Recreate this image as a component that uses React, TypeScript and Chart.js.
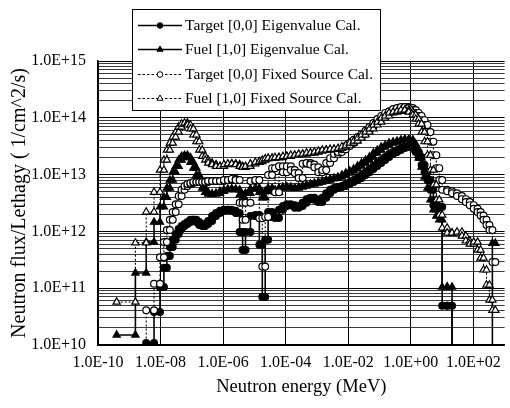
import React, { useEffect, useRef } from "react";
import { Chart, registerables } from "chart.js";

Chart.register(...registerables);

// Energy group boundaries (MeV); each group value is drawn as a histogram step
const groupBounds = [
  3.95e-10, 1.57e-9, 3.48e-9, 6.19e-9, 9.57e-9, 1.28e-8, 1.59e-8, 1.98e-8, 2.45e-8, 3.05e-8,
  3.79e-8, 4.71e-8, 5.85e-8, 7.27e-8, 9.03e-8, 1.12e-7, 1.4e-7, 1.73e-7, 2.15e-7, 2.68e-7,
  3.33e-7, 4.45e-7, 5.94e-7, 7.93e-7, 1.06e-6, 1.42e-6, 1.89e-6, 2.53e-6, 3.38e-6, 4.2e-6,
  5.21e-6, 7.48e-6, 1.07e-5, 1.44e-5, 1.79e-5, 2.22e-5, 2.75e-5, 3.68e-5, 4.57e-5, 6.11e-5,
  8.17e-5, 1.09e-4, 1.46e-4, 1.95e-4, 2.6e-4, 3.48e-4, 4.65e-4, 6.2e-4, 8.28e-4, 1.11e-3,
  1.48e-3, 1.98e-3, 2.64e-3, 3.52e-3, 4.71e-3, 6.29e-3, 8.41e-3, 1.12e-2, 1.5e-2, 2.0e-2,
  2.68e-2, 3.57e-2, 4.78e-2, 6.38e-2, 8.53e-2, 0.114, 0.152, 0.203, 0.272, 0.363,
  0.485, 0.648, 0.865, 1.16, 1.44, 1.79, 2.22, 2.76, 3.43, 4.26,
  5.29, 6.57, 8.17, 10.1, 14.6, 20.9, 30.1, 43.2, 57.7, 77.1,
  103, 137, 171, 212, 264, 328, 407, 506,
];

const targetEigen = [
  0, 0, 1.08e10, 3.8e10, 1.05e11, 2.3e11, 3.7e11, 5.3e11, 7.1e11, 9.0e11,
  1.1e12, 1.24e12, 1.35e12, 1.46e12, 1.6e12, 1.6e12, 1.46e12, 1.3e12, 1.24e12, 1.35e12,
  1.52e12, 1.87e12, 2.1e12, 2.3e12, 2.4e12, 2.4e12, 2.3e12, 2.1e12, 9.8e11, 4.7e11,
  9.8e11, 1.87e12, 1.95e12, 5.8e11, 7.0e10, 7.1e11, 2.2e12, 1.8e12, 1.72e12, 2.4e12,
  2.8e12, 3.0e12, 2.9e12, 2.6e12, 2.8e12, 3.2e12, 3.7e12, 3.9e12, 3.6e12, 3.3e12,
  3.9e12, 4.7e12, 5.4e12, 5.8e12, 6.05e12, 6.3e12, 6.8e12, 7.4e12, 8.0e12, 8.7e12,
  9.8e12, 1.1e13, 1.26e13, 1.42e13, 1.6e13, 1.8e13, 2.04e13, 2.3e13, 2.5e13, 2.7e13,
  2.94e13, 3.06e13, 3.2e13, 2.94e13, 2.5e13, 2.04e13, 1.48e13, 1.1e13, 8.0e12, 5.4e12,
  2.9e12, 2.7e12, 2.7e12, 4.9e10, 4.9e10, 0, 0, 0, 0, 0,
  0, 0, 0, 0, 0, 0, 0,
];

const fuelEigen = [
  1.5e10, 1.85e11, 6.5e11, 1.46e12, 2.7e12, 4.0e12, 5.8e12, 8.0e12, 1.1e13, 1.4e13,
  1.8e13, 2.1e13, 2.2e13, 2.0e13, 1.65e13, 1.3e13, 9.8e12, 7.4e12, 5.8e12, 4.9e12,
  4.55e12, 4.55e12, 4.7e12, 5.1e12, 5.4e12, 5.6e12, 5.6e12, 5.4e12, 4.4e12, 3.6e12,
  4.7e12, 5.6e12, 5.8e12, 4.9e12, 3.9e12, 5.1e12, 5.8e12, 5.4e12, 4.9e12, 5.8e12,
  6.05e12, 6.05e12, 5.8e12, 5.8e12, 6.05e12, 6.3e12, 6.6e12, 6.8e12, 7.1e12, 7.4e12,
  7.7e12, 8.0e12, 8.4e12, 8.7e12, 9.1e12, 9.8e12, 1.07e13, 1.16e13, 1.26e13, 1.42e13,
  1.6e13, 1.8e13, 2.04e13, 2.4e13, 2.7e13, 3.06e13, 3.3e13, 3.6e13, 3.75e13, 3.9e13,
  4.1e13, 4.2e13, 4.1e13, 3.46e13, 2.7e13, 1.96e13, 1.36e13, 9.1e12, 5.8e12, 3.6e12,
  2.4e12, 1.87e12, 1.6e12, 1.05e11, 1.05e11, 0, 0, 0, 0, 0,
  0, 0, 0, 0, 0, 0, 6.2e11,
];

const targetFixed = [
  0, 0, 4.1e10, 1.2e11, 3.5e11, 6.5e11, 1.06e12, 1.6e12, 2.2e12, 3.0e12,
  4.2e12, 5.4e12, 6.3e12, 6.8e12, 7.1e12, 7.4e12, 7.4e12, 7.4e12, 7.4e12, 7.4e12,
  7.7e12, 7.7e12, 7.7e12, 7.7e12, 8.0e12, 8.0e12, 8.4e12, 8.0e12, 3.2e12, 1.6e12,
  3.2e12, 7.7e12, 8.0e12, 1.7e12, 2.4e11, 1.8e12, 9.8e12, 1.3e13, 4.9e12, 1.4e13,
  1.1e13, 1.4e13, 1.2e13, 1.07e13, 8.7e12, 1.55e13, 1.6e13, 1.5e13, 1.35e13, 1.1e13,
  1.2e13, 1.6e13, 1.95e13, 2.3e13, 2.5e13, 2.8e13, 3.2e13, 3.6e13, 4.1e13, 4.6e13,
  5.2e13, 5.9e13, 6.9e13, 8.1e13, 9.5e13, 1.08e14, 1.22e14, 1.3e14, 1.43e14, 1.49e14,
  1.55e14, 1.55e14, 1.49e14, 1.37e14, 1.22e14, 1.08e14, 9.1e13, 7.5e13, 5.6e13, 3.8e13,
  2.2e13, 1.3e13, 8.0e12, 5.4e12, 5.1e12, 4.7e12, 4.2e12, 3.7e12, 3.3e12, 2.9e12,
  2.5e12, 2.2e12, 1.9e12, 1.6e12, 1.3e12, 1.06e12, 2.9e11,
];

const fuelFixed = [
  5.7e10, 6.3e11, 2.2e12, 4.9e12, 1.2e13, 1.8e13, 2.7e13, 3.6e13, 4.6e13, 5.6e13,
  6.9e13, 7.8e13, 8.1e13, 7.5e13, 6.4e13, 5.0e13, 3.8e13, 2.7e13, 2.1e13, 1.8e13,
  1.6e13, 1.5e13, 1.4e13, 1.4e13, 1.5e13, 1.55e13, 1.55e13, 1.5e13, 1.4e13, 1.35e13,
  1.4e13, 1.55e13, 1.65e13, 1.7e13, 1.8e13, 1.9e13, 1.95e13, 1.95e13, 2.0e13, 2.0e13,
  2.1e13, 2.1e13, 2.2e13, 2.2e13, 2.3e13, 2.3e13, 2.4e13, 2.4e13, 2.5e13, 2.6e13,
  2.7e13, 2.7e13, 2.8e13, 2.8e13, 2.9e13, 3.1e13, 3.3e13, 3.6e13, 3.9e13, 4.4e13,
  5.0e13, 5.6e13, 6.4e13, 7.5e13, 8.4e13, 9.9e13, 1.08e14, 1.22e14, 1.26e14, 1.3e14,
  1.37e14, 1.37e14, 1.26e14, 1.12e14, 9.5e13, 7.8e13, 5.6e13, 3.8e13, 2.2e13, 1.2e13,
  6.6e12, 3.6e12, 1.95e12, 1.15e12, 9.4e11, 9.4e11, 9.8e11, 8.3e11, 6.8e11, 6.0e11,
  6.5e11, 4.7e11, 3.4e11, 2.1e11, 1.14e11, 6.2e10, 4.1e10,
];

const seriesNames = [
  "Target [0,0] Eigenvalue Cal.",
  "Fuel [1,0] Eigenvalue Cal.",
  "Target [0,0] Fixed Source Cal.",
  "Fuel [1,0] Fixed Source Cal.",
];

const xTickValues = [1e-10, 1e-8, 1e-6, 1e-4, 1e-2, 1, 1e2];
const yDecades = [1e10, 1e11, 1e12, 1e13, 1e14, 1e15];
const yMantissas = [1, 2, 3, 4, 5, 6, 7, 8, 9];

const X_MIN = 1e-10;
const X_MAX = 1e3;
const Y_MIN = 1e10;
const Y_MAX = 1e15;

const FONT = "'Liberation Serif', 'Times New Roman', Times, serif";
const ZERO_FLOOR = 1e-30; // zero flux: line drops straight off the log axis

function expLabel(v: number): string {
  const e = Math.round(Math.log10(v));
  return `1.0E${e < 0 ? "-" : "+"}${String(Math.abs(e)).padStart(2, "0")}`;
}

function isDecade(v: number): boolean {
  const l = Math.log10(v);
  return Math.abs(l - Math.round(l)) < 1e-6;
}

function histogram(values: number[]) {
  const pts: { x: number; y: number }[] = [];
  values.forEach((v, i) => {
    const y = v > 0 ? v : ZERO_FLOOR;
    pts.push({ x: groupBounds[i], y }, { x: groupBounds[i + 1], y });
  });
  return pts;
}

type Style = { shape: "circle" | "triangle"; filled: boolean; dashed: boolean };
const styles: Style[] = [
  { shape: "circle", filled: true, dashed: false },
  { shape: "triangle", filled: true, dashed: false },
  { shape: "circle", filled: false, dashed: true },
  { shape: "triangle", filled: false, dashed: true },
];

function drawMarker(ctx: CanvasRenderingContext2D, s: Style, x: number, y: number, r: number) {
  ctx.beginPath();
  if (s.shape === "circle") {
    ctx.arc(x, y, r, 0, Math.PI * 2);
  } else {
    const rr = r * 1.25;
    ctx.moveTo(x, y - rr);
    ctx.lineTo(x + rr * Math.sin((2 * Math.PI) / 3), y - rr * Math.cos((2 * Math.PI) / 3));
    ctx.lineTo(x + rr * Math.sin((4 * Math.PI) / 3), y - rr * Math.cos((4 * Math.PI) / 3));
    ctx.closePath();
  }
  ctx.fillStyle = s.filled ? "#000" : "#fff";
  ctx.fill();
  ctx.lineWidth = 1;
  ctx.strokeStyle = "#000";
  ctx.stroke();
}

const boxLegend = {
  id: "boxLegend",
  afterDraw(chart: any) {
    const ctx: CanvasRenderingContext2D = chart.ctx;
    const rowY = [25, 49, 74, 98];
    ctx.save();
    ctx.setLineDash([]);
    ctx.fillStyle = "#fff";
    ctx.fillRect(132, 9, 248, 101);
    ctx.strokeStyle = "#000";
    ctx.lineWidth = 1;
    ctx.strokeRect(132.5, 9.5, 248, 101);
    ctx.font = `15.5px ${FONT}`;
    ctx.textBaseline = "middle";
    seriesNames.forEach((name, i) => {
      const s = styles[i];
      const y = rowY[i];
      ctx.beginPath();
      ctx.setLineDash(s.dashed ? [2.5, 2] : []);
      ctx.lineWidth = s.dashed ? 1.1 : 1.5;
      ctx.strokeStyle = "#000";
      ctx.moveTo(138, y + 0.5);
      ctx.lineTo(182, y + 0.5);
      ctx.stroke();
      ctx.setLineDash([]);
      drawMarker(ctx, s, 160, y + 0.5, 2.8);
      ctx.fillStyle = "#000";
      ctx.fillText(name, 185, y + 1);
    });
    ctx.restore();
  },
};

export default function App() {
  const ref = useRef<HTMLCanvasElement>(null);

  useEffect(() => {
    const canvas = ref.current;
    if (!canvas) return;
    const allSeries = [targetEigen, fuelEigen, targetFixed, fuelFixed];
    const datasets = allSeries.map((vals, i) => {
      const s = styles[i];
      return {
        label: seriesNames[i],
        data: histogram(vals),
        showLine: true,
        borderColor: "#000",
        backgroundColor: s.filled ? "#000" : "#fff",
        borderWidth: s.dashed ? 1.1 : 1.6,
        borderDash: s.dashed ? [2, 2] : [],
        pointStyle: s.shape,
        pointRadius: s.shape === "triangle" ? 4.2 : 3.4,
        pointBorderWidth: 1.2,
        pointBorderColor: "#000",
        pointBackgroundColor: s.filled ? "#000" : "#fff",
        fill: false,
        tension: 0,
        order: 3 - i,
      };
    });

    const chart = new Chart(canvas, {
      type: "scatter",
      data: { datasets: datasets as any },
      options: {
        responsive: false,
        animation: false,
        events: [],
        layout: { padding: { top: 61, left: 0, right: 0, bottom: 0 } },
        plugins: {
          legend: { display: false },
          tooltip: { enabled: false },
        },
        scales: {
          x: {
            type: "logarithmic",
            min: X_MIN,
            max: X_MAX,
            afterBuildTicks: (scale: any) => {
              scale.ticks = xTickValues.map((v) => ({ value: v }));
            },
            afterFit: (scale: any) => {
              scale.height = 63;
            },
            ticks: {
              autoSkip: false,
              maxRotation: 0,
              minRotation: 0,
              padding: 8,
              color: "#000",
              font: { family: FONT, size: 16 },
              callback: (v: any) => expLabel(Number(v)),
            },
            grid: { color: "#000", lineWidth: 1, drawTicks: false },
            border: { color: "#000", width: 1.5 },
            title: {
              display: true,
              text: "Neutron energy (MeV)",
              color: "#000",
              font: { family: FONT, size: 18.5 },
              padding: { top: 0, bottom: 10 },
            },
          },
          y: {
            type: "logarithmic",
            min: Y_MIN,
            max: Y_MAX,
            afterBuildTicks: (scale: any) => {
              const t: { value: number }[] = [];
              yDecades.forEach((d) => {
                if (d === Y_MAX) {
                  t.push({ value: d });
                } else {
                  yMantissas.forEach((m) => t.push({ value: m * d }));
                }
              });
              scale.ticks = t;
            },
            afterFit: (scale: any) => {
              scale.width = 98;
            },
            ticks: {
              autoSkip: false,
              padding: 12,
              color: "#000",
              font: { family: FONT, size: 16 },
              callback: (v: any) => (isDecade(Number(v)) ? expLabel(Number(v)) : ""),
            },
            grid: {
              color: (ctx: any) => (ctx.tick && isDecade(ctx.tick.value) ? "#000" : "#3c3c3c"),
              lineWidth: 1,
              drawTicks: false,
            },
            border: { color: "#000", width: 1.5 },
            title: {
              display: true,
              text: "Neutron flux/Lethagy ( 1/cm^2/s)",
              color: "#000",
              font: { family: FONT, size: 20 },
              padding: { top: 8, bottom: 0 },
            },
          },
        },
      },
      plugins: [boxLegend],
    });
    return () => chart.destroy();
  }, []);

  return (
    <div style={{ position: "fixed", left: 0, top: 0, width: 510, height: 408, background: "#fff" }}>
      <canvas ref={ref} width={510} height={408} style={{ width: 510, height: 408, display: "block" }} />
    </div>
  );
}
